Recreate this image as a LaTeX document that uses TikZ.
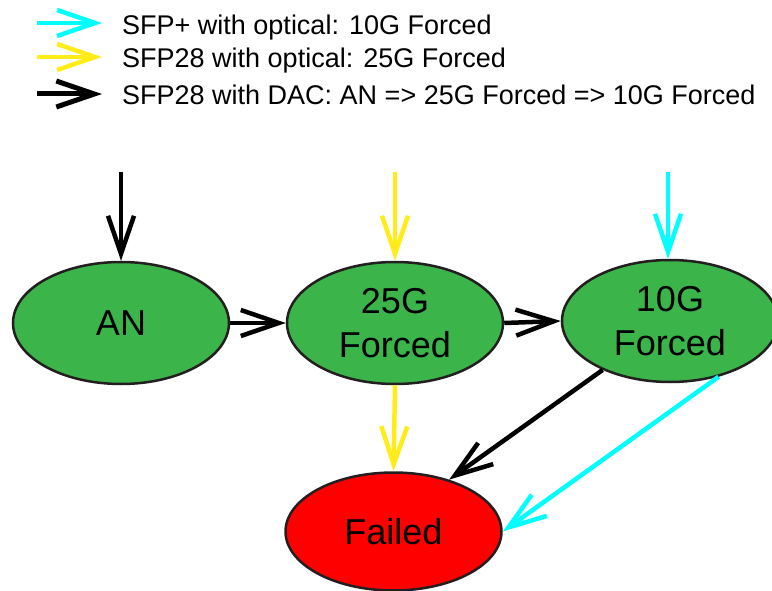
\documentclass[tikz,border=0pt]{standalone}
\usepackage{fontspec}
\setmainfont{Liberation Sans}
\usetikzlibrary{arrows.meta,shapes.geometric}

\definecolor{stategreen}{RGB}{59,181,74}
\definecolor{statered}{RGB}{255,0,0}
\definecolor{pathyellow}{RGB}{255,236,24}
\definecolor{pathcyan}{RGB}{0,255,255}
\definecolor{outline}{RGB}{35,31,32}

\tikzset{
  state/.style={ellipse, draw=outline, line width=2.5pt, inner sep=0pt,
    minimum width=216pt, minimum height=122pt, align=center,
    font=\fontsize{36}{44}\selectfont},
  okstate/.style={state, fill=stategreen},
  badstate/.style={state, fill=statered, minimum height=118pt},
  flow/.style={line width=4.5pt, -{Straight Barb[length=38pt,width=26pt]}},
  dacflow/.style={flow, draw=black},
  sfpflow/.style={flow, draw=pathcyan},
  optflow/.style={flow, draw=pathyellow},
  legendtext/.style={anchor=base west, inner sep=0pt, font=\fontsize{27}{32}\selectfont}
}

\begin{document}
\begin{tikzpicture}[x=1pt,y=-1pt]
  \useasboundingbox (0,0) rectangle (772,591);

  % legend
  \coordinate (l1a) at (37,23);  \coordinate (l1b) at (102,23);
  \coordinate (l2a) at (37,57);  \coordinate (l2b) at (102,57);
  \coordinate (l3a) at (37,94);  \coordinate (l3b) at (102,94);
  \draw[sfpflow] (l1a) -- (l1b);
  \draw[optflow] (l2a) -- (l2b);
  \draw[dacflow, line width=5pt] (l3a) -- (l3b);
  \node[legendtext] (t1) at (122,34.5) {SFP+ with optical: 10G Forced};
  \node[legendtext] (t2) at (122,67.5) {SFP28 with optical: 25G Forced};
  \node[legendtext] (t3) at (122,105) {SFP28 with DAC: AN => 25G Forced => 10G Forced};

  % states
  \node[okstate] (an)  at (121,323)   {AN};
  \node[okstate] (f25) at (395,323) {25G\\Forced};
  \node[okstate] (f10) at (670,321) {10G\\Forced};
  \node[badstate] (fail) at (393.5,531.5) {Failed};

  % entry points
  \coordinate (inan)  at (121,172);
  \coordinate (in25)  at (395,172);
  \coordinate (in10)  at (668,172);
  \draw[dacflow] (inan) -- (an.north);
  \draw[optflow] (in25) -- (f25.north);
  \draw[sfpflow] (in10) -- (in10 |- f10.north);

  % transitions
  \draw[dacflow] (an.east) -- (f25.west);
  \draw[dacflow] (f25.east) -- (f10.west);
  \draw[optflow] (f25.south) -- (fail.north);
  \draw[dacflow] (f10.216) -- (fail.43);
  \draw[sfpflow] (f10.311) -- (fail.east);
\end{tikzpicture}
\end{document}
